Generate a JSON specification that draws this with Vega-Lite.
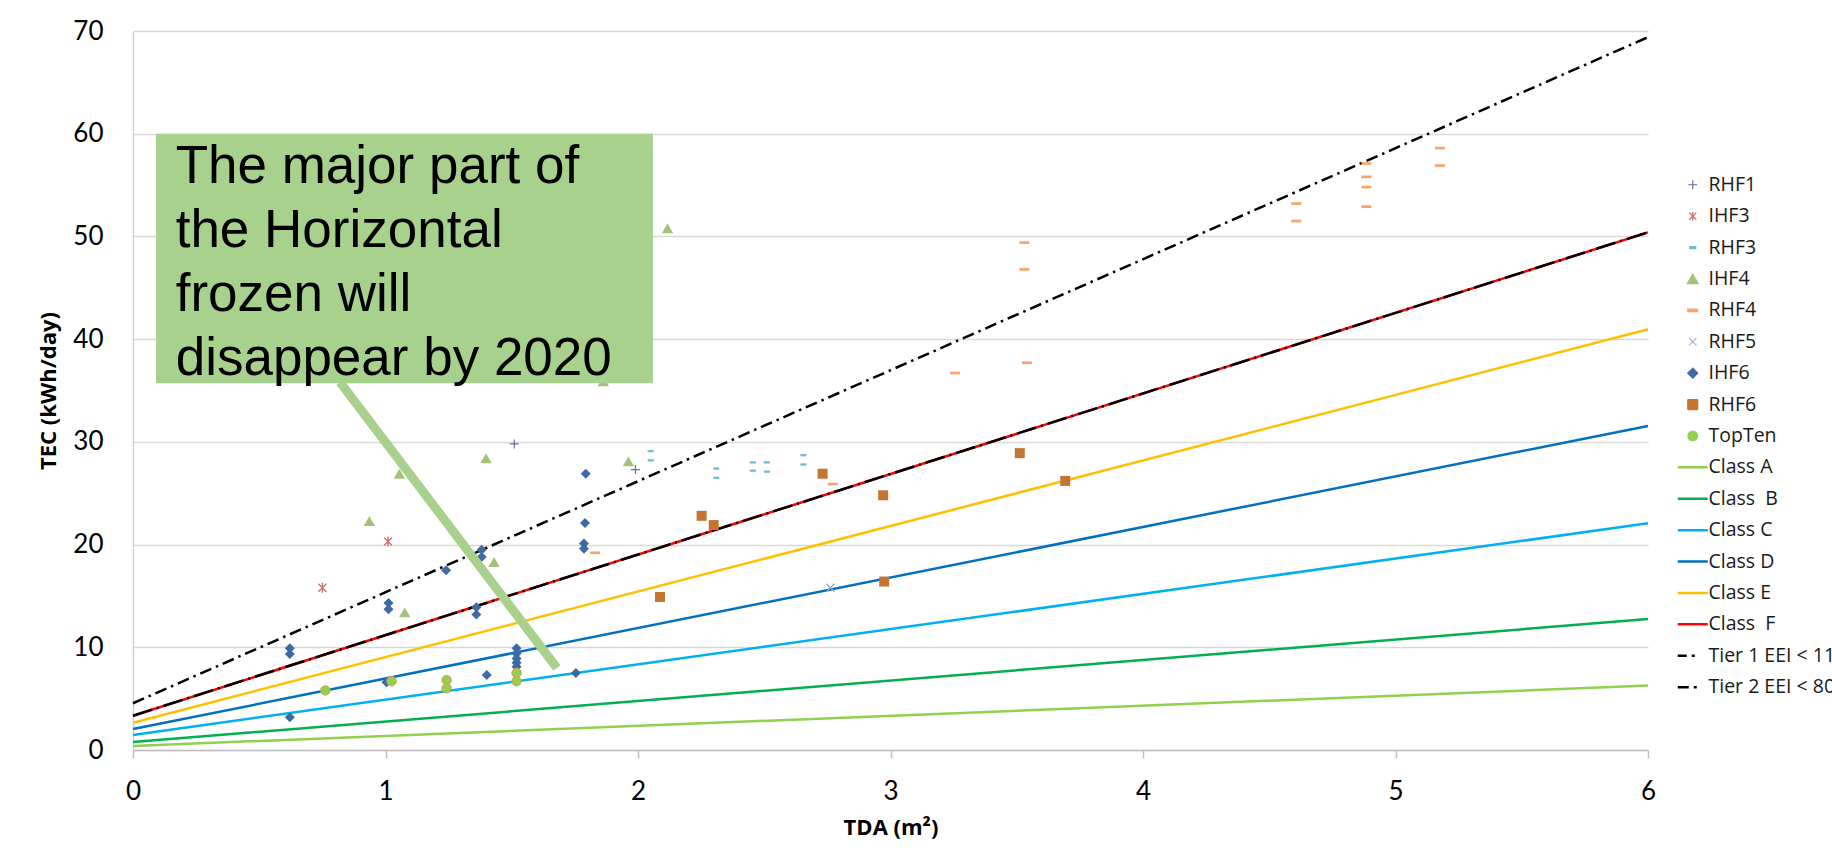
{
  "$schema": "https://vega.github.io/schema/vega-lite/v6.json",
  "width": 1515,
  "height": 719,
  "autosize": {"type": "none"},
  "padding": {"left": 133, "top": 31, "right": 184, "bottom": 112},
  "background": "white",
  "config": {"view": {"stroke": null}, "font": "Lato"},
  "datasets": {
    "pts": [
      {"series": "RHF1", "tda": 1.51, "tec": 29.8},
      {"series": "RHF1", "tda": 1.99, "tec": 27.3},
      {"series": "IHF3", "tda": 0.75, "tec": 15.8},
      {"series": "IHF3", "tda": 1.01, "tec": 20.3},
      {"series": "RHF3", "tda": 2.05, "tec": 29.1},
      {"series": "RHF3", "tda": 2.05, "tec": 28.2},
      {"series": "RHF3", "tda": 2.31, "tec": 27.4},
      {"series": "RHF3", "tda": 2.31, "tec": 26.5},
      {"series": "RHF3", "tda": 2.455, "tec": 28.0},
      {"series": "RHF3", "tda": 2.455, "tec": 27.2},
      {"series": "RHF3", "tda": 2.51, "tec": 28.0},
      {"series": "RHF3", "tda": 2.51, "tec": 27.1},
      {"series": "RHF3", "tda": 2.655, "tec": 28.7},
      {"series": "RHF3", "tda": 2.655, "tec": 27.8},
      {"series": "IHF4", "tda": 0.936, "tec": 22.3},
      {"series": "IHF4", "tda": 1.055, "tec": 26.9},
      {"series": "IHF4", "tda": 1.076, "tec": 13.4},
      {"series": "IHF4", "tda": 1.398, "tec": 28.4},
      {"series": "IHF4", "tda": 1.43, "tec": 18.3},
      {"series": "IHF4", "tda": 1.863, "tec": 35.9},
      {"series": "IHF4", "tda": 1.962, "tec": 28.1},
      {"series": "IHF4", "tda": 2.117, "tec": 50.8},
      {"series": "RHF4", "tda": 1.83, "tec": 19.2},
      {"series": "RHF4", "tda": 2.771, "tec": 25.9},
      {"series": "RHF4", "tda": 3.255, "tec": 36.7},
      {"series": "RHF4", "tda": 3.54, "tec": 37.7},
      {"series": "RHF4", "tda": 3.53, "tec": 46.8},
      {"series": "RHF4", "tda": 3.53, "tec": 49.4},
      {"series": "RHF4", "tda": 4.607, "tec": 51.5},
      {"series": "RHF4", "tda": 4.607, "tec": 53.2},
      {"series": "RHF4", "tda": 4.885, "tec": 52.9},
      {"series": "RHF4", "tda": 4.885, "tec": 54.8},
      {"series": "RHF4", "tda": 4.885, "tec": 55.8},
      {"series": "RHF4", "tda": 4.885, "tec": 57.1},
      {"series": "RHF4", "tda": 5.176, "tec": 56.9},
      {"series": "RHF4", "tda": 5.176, "tec": 58.6},
      {"series": "RHF5", "tda": 2.762, "tec": 15.8},
      {"series": "IHF6", "tda": 0.621, "tec": 9.9},
      {"series": "IHF6", "tda": 0.621, "tec": 9.35},
      {"series": "IHF6", "tda": 0.621, "tec": 3.2},
      {"series": "IHF6", "tda": 1.004, "tec": 6.6},
      {"series": "IHF6", "tda": 1.012, "tec": 14.3},
      {"series": "IHF6", "tda": 1.012, "tec": 13.7},
      {"series": "IHF6", "tda": 1.24, "tec": 17.5},
      {"series": "IHF6", "tda": 1.242, "tec": 22.2},
      {"series": "IHF6", "tda": 1.36, "tec": 13.9},
      {"series": "IHF6", "tda": 1.36, "tec": 13.2},
      {"series": "IHF6", "tda": 1.381, "tec": 19.5},
      {"series": "IHF6", "tda": 1.381, "tec": 18.8},
      {"series": "IHF6", "tda": 1.401, "tec": 7.3},
      {"series": "IHF6", "tda": 1.519, "tec": 9.9},
      {"series": "IHF6", "tda": 1.519, "tec": 9.4},
      {"series": "IHF6", "tda": 1.519, "tec": 8.9},
      {"series": "IHF6", "tda": 1.519, "tec": 8.5},
      {"series": "IHF6", "tda": 1.519, "tec": 8.1},
      {"series": "IHF6", "tda": 1.754, "tec": 7.5},
      {"series": "IHF6", "tda": 1.786, "tec": 20.1},
      {"series": "IHF6", "tda": 1.786, "tec": 19.6},
      {"series": "IHF6", "tda": 1.79, "tec": 22.1},
      {"series": "IHF6", "tda": 1.793, "tec": 26.9},
      {"series": "RHF6", "tda": 2.087, "tec": 14.9},
      {"series": "RHF6", "tda": 2.252, "tec": 22.8},
      {"series": "RHF6", "tda": 2.3, "tec": 21.9},
      {"series": "RHF6", "tda": 2.731, "tec": 26.9},
      {"series": "RHF6", "tda": 2.971, "tec": 24.8},
      {"series": "RHF6", "tda": 2.975, "tec": 16.4},
      {"series": "RHF6", "tda": 3.512, "tec": 28.9},
      {"series": "RHF6", "tda": 3.692, "tec": 26.2},
      {"series": "TopTen", "tda": 0.762, "tec": 5.8},
      {"series": "TopTen", "tda": 1.024, "tec": 6.7},
      {"series": "TopTen", "tda": 1.242, "tec": 6.8},
      {"series": "TopTen", "tda": 1.242, "tec": 6.0},
      {"series": "TopTen", "tda": 1.519, "tec": 7.5},
      {"series": "TopTen", "tda": 1.519, "tec": 6.7}
    ],
    "lines": [
      {"series": "Class A", "tda": 0, "tec": 0.39},
      {"series": "Class A", "tda": 6, "tec": 6.27},
      {"series": "Class  B", "tda": 0, "tec": 0.78},
      {"series": "Class  B", "tda": 6, "tec": 12.75},
      {"series": "Class C", "tda": 0, "tec": 1.46},
      {"series": "Class C", "tda": 6, "tec": 22.07},
      {"series": "Class D", "tda": 0, "tec": 2.04},
      {"series": "Class D", "tda": 6, "tec": 31.55},
      {"series": "Class E", "tda": 0, "tec": 2.66},
      {"series": "Class E", "tda": 6, "tec": 40.96},
      {"series": "Class  F", "tda": 0, "tec": 3.34},
      {"series": "Class  F", "tda": 6, "tec": 50.4},
      {"series": "Tier 1 EEI < 110", "tda": 0, "tec": 4.55},
      {"series": "Tier 1 EEI < 110", "tda": 6, "tec": 69.4},
      {"series": "Tier 2 EEI < 80", "tda": 0, "tec": 3.34},
      {"series": "Tier 2 EEI < 80", "tda": 6, "tec": 50.4}
    ],
    "connector": [
      {"tda": 0.82, "tec": 35.8},
      {"tda": 1.679, "tec": 7.98}
    ]
  },
  "layer": [
    {
      "data": {"name": "lines"},
      "transform": [{"filter": "indexof(datum.series, 'Tier') < 0"}],
      "mark": {"type": "line", "strokeWidth": 2.5},
      "encoding": {
        "x": {
          "field": "tda", "type": "quantitative",
          "scale": {"domain": [0, 6], "nice": false, "zero": true},
          "axis": {
            "values": [0, 1, 2, 3, 4, 5, 6], "format": "d", "grid": false,
            "domainColor": "#bfbfbf", "domainWidth": 1.5,
            "tickColor": "#bfbfbf", "tickSize": 8, "tickWidth": 1.5,
            "labelFont": "Lato", "labelFontSize": 26, "labelColor": "#000000",
            "labelPadding": 20, "labelFlush": false, "labelOverlap": false,
            "title": "TDA (m²)", "titleFont": "Open Sans", "titleFontSize": 22,
            "titleFontWeight": "bold", "titleColor": "#000000", "titlePadding": 13
          }
        },
        "y": {
          "field": "tec", "type": "quantitative",
          "scale": {"domain": [0, 70], "nice": false},
          "axis": {
            "values": [0, 10, 20, 30, 40, 50, 60, 70], "format": "d",
            "grid": true, "gridColor": "#d9d9d9", "gridWidth": 1.5,
            "domainColor": "#d0d0d0", "domainWidth": 1.5, "ticks": false,
            "labelFont": "Lato", "labelFontSize": 26, "labelColor": "#000000",
            "labelPadding": 30,
            "title": "TEC (kWh/day)", "titleFont": "Open Sans", "titleFontSize": 22,
            "titleFontWeight": "bold", "titleColor": "#000000", "titlePadding": 12
          }
        },
        "color": {
          "field": "series", "type": "nominal",
          "scale": {
            "domain": ["RHF1", "IHF3", "RHF3", "IHF4", "RHF4", "RHF5", "IHF6", "RHF6", "TopTen", "Class A", "Class  B", "Class C", "Class D", "Class E", "Class  F", "Tier 1 EEI < 110", "Tier 2 EEI < 80"],
            "range": ["#8064a2", "#cc6e6b", "#6cbad3", "#a5c27a", "#f8a46c", "#a5b6d9", "#3e6aa4", "#c47433", "#92d050", "#92d050", "#00b050", "#00b0f0", "#0070c0", "#ffc000", "#ff0000", "#000000", "#000000"]
          },
          "legend": {
            "orient": "none", "legendX": 1550, "legendY": 144,
            "title": null, "padding": 0,
            "labelFont": "Open Sans", "labelFontSize": 19.5, "labelColor": "#1a1a1a",
            "labelLimit": 0, "labelOffset": 6,
            "labelExpr": "replace(datum.label, '  ', ' \u00a0')",
            "symbolSize": 900, "symbolType": "stroke", "symbolStrokeWidth": 2.5,
            "rowPadding": 10.4,
            "encode": {
              "symbols": {
                "update": {
                  "shape": {"signal": "['M-1,0H1M0,-1V1','M-0.8,-0.8L0.8,0.8M-0.8,0.8L0.8,-0.8M0,-1V1','M-1,-0.35H1V0.35H-1Z','triangle-up','M-1,-0.27H1V0.27H-1Z','M-0.8,-0.8L0.8,0.8M-0.8,0.8L0.8,-0.8','diamond','square','circle','stroke','stroke','stroke','stroke','stroke','stroke','stroke','stroke'][indexof(domain('color'), datum.value)]"},
                  "size": {"signal": "[81,81,36,120,100,81,100,100,90,900,900,900,900,900,900,900,900][indexof(domain('color'), datum.value)]"},
                  "fill": {"signal": "['transparent','transparent','#6cbad3','#a5c27a','#f8a46c','transparent','#3e6aa4','#c47433','#92d050','transparent','transparent','transparent','transparent','transparent','transparent','transparent','transparent'][indexof(domain('color'), datum.value)]"},
                  "stroke": {"signal": "['#b4a7d6','#e0a3a1','transparent','transparent','transparent','#b9c7e4','transparent','transparent','#92d050','#92d050','#00b050','#00b0f0','#0070c0','#ffc000','#ff0000','#000000','#000000'][indexof(domain('color'), datum.value)]"},
                  "strokeWidth": {"signal": "indexof(domain('color'), datum.value) < 9 ? 1.2 : 2.5"},
                  "strokeDash": {"signal": "indexof(domain('color'), datum.value) == 15 ? [9,5,3,13] : indexof(domain('color'), datum.value) == 16 ? [11,5,3,11] : [1,0]"},
                  "opacity": {"value": 1}
                }
              }
            }
          }
        },
        "detail": {"field": "series"}
      }
    },
    {
      "data": {"name": "lines"},
      "transform": [{"filter": "datum.series == 'Tier 2 EEI < 80'"}],
      "mark": {"type": "line", "color": "#000000", "strokeWidth": 2.5, "strokeDash": [20, 5, 2, 5]},
      "encoding": {
        "x": {"field": "tda", "type": "quantitative"},
        "y": {"field": "tec", "type": "quantitative"}
      }
    },
    {
      "data": {"name": "lines"},
      "transform": [{"filter": "datum.series == 'Tier 1 EEI < 110'"}],
      "mark": {"type": "line", "color": "#000000", "strokeWidth": 2.5, "strokeDash": [12, 5, 2.5, 5]},
      "encoding": {
        "x": {"field": "tda", "type": "quantitative"},
        "y": {"field": "tec", "type": "quantitative"}
      }
    },
    {
      "data": {"name": "pts"},
      "transform": [{"filter": "datum.series == 'RHF1'"}],
      "mark": {"type": "point", "shape": "M-1,0H1M0,-1V1", "size": 81, "filled": false, "stroke": "#8064a2", "strokeWidth": 1.2, "opacity": 1},
      "encoding": {"x": {"field": "tda", "type": "quantitative"}, "y": {"field": "tec", "type": "quantitative"}}
    },
    {
      "data": {"name": "pts"},
      "transform": [{"filter": "datum.series == 'IHF3'"}],
      "mark": {"type": "point", "shape": "M-0.8,-0.8L0.8,0.8M-0.8,0.8L0.8,-0.8M0,-1V1", "size": 100, "filled": false, "stroke": "#cc6e6b", "strokeWidth": 1.3, "opacity": 1},
      "encoding": {"x": {"field": "tda", "type": "quantitative"}, "y": {"field": "tec", "type": "quantitative"}}
    },
    {
      "data": {"name": "pts"},
      "transform": [{"filter": "datum.series == 'RHF3'"}],
      "mark": {"type": "point", "shape": "M-1,-0.38H1V0.38H-1Z", "size": 36, "filled": true, "fill": "#6cbad3", "opacity": 1},
      "encoding": {"x": {"field": "tda", "type": "quantitative"}, "y": {"field": "tec", "type": "quantitative"}}
    },
    {
      "data": {"name": "pts"},
      "transform": [{"filter": "datum.series == 'IHF4'"}],
      "mark": {"type": "point", "shape": "triangle-up", "size": 130, "filled": true, "fill": "#a5c27a", "opacity": 1},
      "encoding": {"x": {"field": "tda", "type": "quantitative"}, "y": {"field": "tec", "type": "quantitative"}}
    },
    {
      "data": {"name": "pts"},
      "transform": [{"filter": "datum.series == 'RHF4'"}],
      "mark": {"type": "point", "shape": "M-1,-0.27H1V0.27H-1Z", "size": 100, "filled": true, "fill": "#f8a46c", "opacity": 1},
      "encoding": {"x": {"field": "tda", "type": "quantitative"}, "y": {"field": "tec", "type": "quantitative"}}
    },
    {
      "data": {"name": "pts"},
      "transform": [{"filter": "datum.series == 'RHF5'"}],
      "mark": {"type": "point", "shape": "M-0.8,-0.8L0.8,0.8M-0.8,0.8L0.8,-0.8", "size": 100, "filled": false, "stroke": "#8ea3cf", "strokeWidth": 1.2, "opacity": 1},
      "encoding": {"x": {"field": "tda", "type": "quantitative"}, "y": {"field": "tec", "type": "quantitative"}}
    },
    {
      "data": {"name": "pts"},
      "transform": [{"filter": "datum.series == 'IHF6'"}],
      "mark": {"type": "point", "shape": "diamond", "size": 100, "filled": true, "fill": "#3e6aa4", "opacity": 1},
      "encoding": {"x": {"field": "tda", "type": "quantitative"}, "y": {"field": "tec", "type": "quantitative"}}
    },
    {
      "data": {"name": "pts"},
      "transform": [{"filter": "datum.series == 'RHF6'"}],
      "mark": {"type": "point", "shape": "square", "size": 100, "filled": true, "fill": "#c47433", "opacity": 1},
      "encoding": {"x": {"field": "tda", "type": "quantitative"}, "y": {"field": "tec", "type": "quantitative"}}
    },
    {
      "data": {"name": "pts"},
      "transform": [{"filter": "datum.series == 'TopTen'"}],
      "mark": {"type": "point", "shape": "circle", "size": 90, "filled": true, "fill": "#92d050", "stroke": "#e59a52", "strokeWidth": 1, "opacity": 1},
      "encoding": {"x": {"field": "tda", "type": "quantitative"}, "y": {"field": "tec", "type": "quantitative"}}
    },
    {
      "data": {"values": [{}]},
      "mark": {"type": "rect", "fill": "#a9d18e"},
      "encoding": {
        "x": {"datum": 0.091, "type": "quantitative"},
        "x2": {"datum": 2.059},
        "y": {"datum": 60, "type": "quantitative"},
        "y2": {"datum": 35.7}
      }
    },
    {
      "data": {"values": [{}]},
      "mark": {"type": "text", "font": "Liberation Sans", "fontSize": 53, "lineHeight": 64, "align": "left", "baseline": "alphabetic", "color": "#000000"},
      "encoding": {
        "x": {"datum": 0.169, "type": "quantitative"},
        "y": {"datum": 55.24, "type": "quantitative"},
        "text": {"value": ["The major part of", "the Horizontal", "frozen will", "disappear by 2020"]}
      }
    },
    {
      "data": {"name": "connector"},
      "mark": {"type": "line", "color": "#a9d18e", "strokeWidth": 9, "strokeCap": "butt"},
      "encoding": {
        "x": {"field": "tda", "type": "quantitative"},
        "y": {"field": "tec", "type": "quantitative"}
      }
    }
  ]
}
